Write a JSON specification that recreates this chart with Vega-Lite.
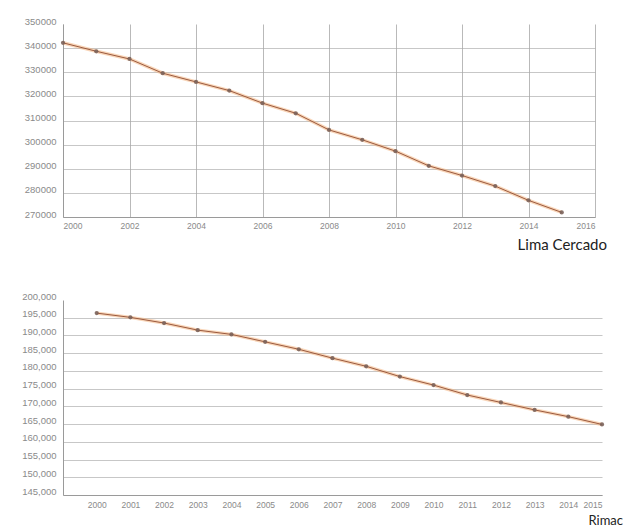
{
  "$schema": "https://vega.github.io/schema/vega-lite/v6.json",
  "background": "white",
  "padding": {"left": 21, "top": 16, "right": 5, "bottom": 5},
  "spacing": 38,
  "config": {
    "view": {"stroke": null},
    "axis": {"labelFont": "Liberation Sans", "labelFontSize": 9.5, "labelColor": "#8a8a8a", "ticks": false, "domainColor": "#9a9a9a", "gridColor": "#a8a8a8", "gridOpacity": 0.8, "title": null}
  },
  "datasets": {
    "lima": [
      {"year": 2000, "pop": 342200}, {"year": 2001, "pop": 338700}, {"year": 2002, "pop": 335500},
      {"year": 2003, "pop": 329600}, {"year": 2004, "pop": 326000}, {"year": 2005, "pop": 322400},
      {"year": 2006, "pop": 317200}, {"year": 2007, "pop": 313000}, {"year": 2008, "pop": 306100},
      {"year": 2009, "pop": 302000}, {"year": 2010, "pop": 297300}, {"year": 2011, "pop": 291200},
      {"year": 2012, "pop": 287200}, {"year": 2013, "pop": 282800}, {"year": 2014, "pop": 276900},
      {"year": 2015, "pop": 271900}
    ],
    "rimac": [
      {"year": 2000, "pop": 196300}, {"year": 2001, "pop": 195100}, {"year": 2002, "pop": 193500},
      {"year": 2003, "pop": 191500}, {"year": 2004, "pop": 190300}, {"year": 2005, "pop": 188200},
      {"year": 2006, "pop": 186100}, {"year": 2007, "pop": 183600}, {"year": 2008, "pop": 181300},
      {"year": 2009, "pop": 178400}, {"year": 2010, "pop": 176000}, {"year": 2011, "pop": 173200},
      {"year": 2012, "pop": 171100}, {"year": 2013, "pop": 169000}, {"year": 2014, "pop": 167100},
      {"year": 2015, "pop": 164900}
    ]
  },
  "vconcat": [
    {
      "width": 532,
      "height": 193,
      "data": {"name": "lima"},
      "title": {"text": "Lima Cercado", "orient": "bottom", "anchor": "end", "font": "Lato", "fontSize": 15, "fontWeight": "normal", "color": "#222222", "offset": 8, "dx": 12},
      "encoding": {
        "x": {"field": "year", "type": "quantitative", "scale": {"domain": [2000, 2016], "nice": false, "zero": false},
              "axis": {"values": [2000, 2002, 2004, 2006, 2008, 2010, 2012, 2014, 2016], "format": "d", "labelPadding": 4, "grid": true, "labelFontSize": 8.5}},
        "y": {"field": "pop", "type": "quantitative", "scale": {"domain": [270000, 350000], "nice": false, "zero": false},
              "axis": {"values": [270000, 280000, 290000, 300000, 310000, 320000, 330000, 340000, 350000], "format": "d", "labelPadding": 7, "labelOffset": -3,
                       "gridOpacity": {"condition": {"test": "datum.value >= 350000", "value": 0}, "value": 0.8}}}
      },
      "layer": [
        {"mark": {"type": "line", "color": "#f2b27e", "strokeWidth": 3.5, "opacity": 0.55}},
        {"mark": {"type": "line", "color": "#9b5a3f", "strokeWidth": 1}},
        {"mark": {"type": "point", "filled": true, "color": "#7a625a", "size": 18, "opacity": 0.9}}
      ]
    },
    {
      "width": 539,
      "height": 195,
      "data": {"name": "rimac"},
      "title": {"text": "Rimac", "orient": "bottom", "anchor": "end", "font": "Lato", "fontSize": 13, "fontWeight": "normal", "color": "#222222", "offset": 6, "dx": 14},
      "encoding": {
        "x": {"field": "year", "type": "quantitative", "scale": {"domain": [1999, 2015], "nice": false, "zero": false},
              "axis": {"values": [2000, 2001, 2002, 2003, 2004, 2005, 2006, 2007, 2008, 2009, 2010, 2011, 2012, 2013, 2014, 2015], "format": "d", "labelPadding": 5, "grid": false, "labelFontSize": 8.5}},
        "y": {"field": "pop", "type": "quantitative", "scale": {"domain": [145000, 200000], "nice": false, "zero": false},
              "axis": {"values": [145000, 150000, 155000, 160000, 165000, 170000, 175000, 180000, 185000, 190000, 195000, 200000], "format": ",d", "labelPadding": 7, "labelOffset": -4,
                       "gridOpacity": {"condition": {"test": "datum.value >= 200000", "value": 0}, "value": 0.8}}}
      },
      "layer": [
        {"mark": {"type": "line", "color": "#f2b27e", "strokeWidth": 3.5, "opacity": 0.55}},
        {"mark": {"type": "line", "color": "#9b5a3f", "strokeWidth": 1}},
        {"mark": {"type": "point", "filled": true, "color": "#7a625a", "size": 18, "opacity": 0.9}}
      ]
    }
  ]
}
